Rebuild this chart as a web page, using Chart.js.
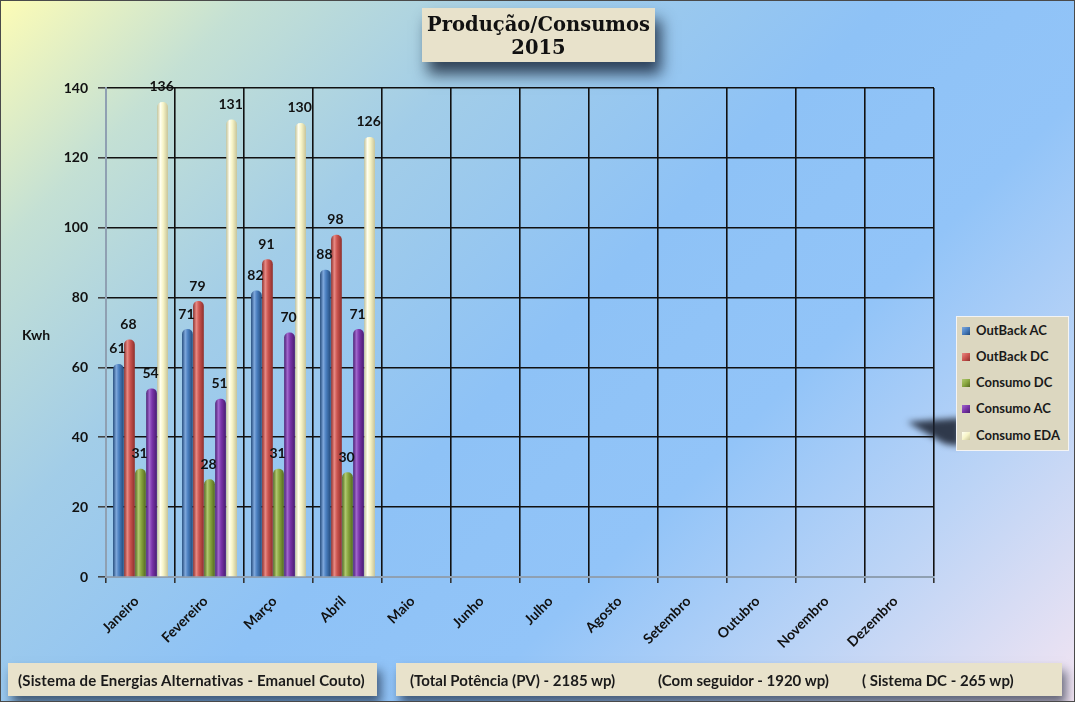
<!DOCTYPE html>
<html><head><meta charset="utf-8">
<script src="https://cdn.jsdelivr.net/npm/chart.js@4"></script>
<style>
html,body{margin:0;padding:0;}
body{width:1075px;height:702px;position:relative;overflow:hidden;font-family:Lato,"Open Sans",sans-serif;
background:linear-gradient(135deg,#fdfcb6 0%,#c4e0d4 14%,#a2cde8 30%,#8ec2f6 50%,#92c4f8 66%,#bcd4f6 82%,#f2e4f2 100%);}
#frame{position:absolute;left:0;top:0;width:1073px;height:700px;border:1px solid #4a4a4a;pointer-events:none;}
#c{position:absolute;left:0;top:0;}
.box{position:absolute;background:#e8e2cb;}
#title{left:422px;top:8px;width:233px;height:54px;box-shadow:6px 12px 14px rgba(10,20,40,0.75);text-align:center;
font-family:"DejaVu Serif",serif;font-weight:bold;font-size:19.5px;line-height:23px;color:#111;padding-top:5px;box-sizing:border-box;}
#shadowwrap{position:absolute;left:900px;top:412px;width:60px;height:40px;filter:blur(3px);}
#shadowwrap div{width:100%;height:100%;background:rgba(25,30,45,0.85);clip-path:polygon(12% 25%,100% 15%,100% 85%,75% 80%);}
#legend{position:absolute;left:956px;top:316px;width:113px;height:135px;background:#dcd7c0;border:1px solid #f4f4f4;box-sizing:border-box;}
.li{position:absolute;left:5px;font-weight:bold;font-size:13px;color:#1a1a1a;white-space:nowrap;line-height:14px;}
.li span{display:inline-block;width:8px;height:8px;margin-right:6px;vertical-align:0px;}
.foot{top:663px;height:33px;box-shadow:4px 8px 10px rgba(10,20,40,0.6);font-weight:bold;font-size:15px;color:#1a1a1a;}
.ft{position:absolute;top:8px;white-space:nowrap;}
</style></head>
<body>
<canvas id="c" width="1075" height="702"></canvas>
<div id="title" class="box">Produção/Consumos<br>2015</div>
<div id="shadowwrap"><div></div></div>
<div id="legend"></div>
<div class="box foot" style="left:8px;width:369px;"><div class="ft" style="left:10px;letter-spacing:0.16px;">(Sistema de Energias Alternativas - Emanuel Couto)</div></div>
<div class="box foot" style="left:396px;width:666px;">
<div class="ft" style="left:14px;">(Total Potência (PV) - 2185 wp)</div>
<div class="ft" style="left:262px;">(Com seguidor - 1920 wp)</div>
<div class="ft" style="left:466px;">( Sistema DC - 265 wp)</div>
</div>
<div id="frame"></div>
<script>
const categories = ['Janeiro','Fevereiro','Março','Abril','Maio','Junho','Julho','Agosto','Setembro','Outubro','Novembro','Dezembro'];
const seriesNames = ['OutBack AC','OutBack DC','Consumo DC','Consumo AC','Consumo EDA'];
const outbackAC = [61,71,82,88,null,null,null,null,null,null,null,null];
const outbackDC = [68,79,91,98,null,null,null,null,null,null,null,null];
const consumoDC = [31,28,31,30,null,null,null,null,null,null,null,null];
const consumoAC = [54,51,70,71,null,null,null,null,null,null,null,null];
const consumoEDA = [136,131,130,126,null,null,null,null,null,null,null,null];
const yTicks = [0,20,40,60,80,100,120,140];

const palette = [
  {dark:'#234a7a', mid:'#4a7fc0', light:'#7fa8dc'},
  {dark:'#8e2f2c', mid:'#cc5550', light:'#e88a84'},
  {dark:'#55691f', mid:'#8aa840', light:'#b0c870'},
  {dark:'#4a1c72', mid:'#7a35aa', light:'#a068cc'},
  {dark:'#c8c498', mid:'#f8f5c8', light:'#fffff0'}
];
const allData = [outbackAC, outbackDC, consumoDC, consumoAC, consumoEDA];

// legend
const lg = document.getElementById('legend');
seriesNames.forEach((n,i)=>{
  const d = document.createElement('div');
  d.className='li';
  d.style.top = (6 + i*26 + (i==4?1:0)) + 'px';
  const p = palette[i];
  d.innerHTML = '<span style="background:linear-gradient(135deg,'+p.light+','+p.mid+' 50%,'+p.dark+');"></span>'+n;
  lg.appendChild(d);
});

const FONT = 'Lato, "Open Sans", sans-serif';

const cylPlugin = {
  id:'cyl',
  beforeDatasetDraw(chart, args){
    const ctx = chart.ctx;
    const p = palette[args.index];
    args.meta.data.forEach(bar=>{
      if (bar.skip || !isFinite(bar.x) || !isFinite(bar.width)) return;
      const x0 = bar.x - bar.width/2, x1 = bar.x + bar.width/2;
      const g = ctx.createLinearGradient(x0,0,x1,0);
      g.addColorStop(0, p.dark);
      g.addColorStop(0.3, p.light);
      g.addColorStop(0.55, p.mid);
      g.addColorStop(1, p.dark);
      bar.options = Object.assign({}, bar.options, {backgroundColor:g});
    });
  },
  afterDatasetsDraw(chart){
    const ctx = chart.ctx;
    ctx.save();
    ctx.font = 'bold 14px ' + FONT;
    ctx.fillStyle = '#111';
    ctx.textAlign = 'center';
    ctx.textBaseline = 'middle';
    chart.data.datasets.forEach((ds,i)=>{
      const meta = chart.getDatasetMeta(i);
      meta.data.forEach((bar,j)=>{
        const v = ds.data[j];
        if (v == null) return;
        ctx.fillText(String(v), bar.x - 1, bar.y - 15);
      });
    });
    ctx.restore();
  },
  afterDraw(chart){
    const ctx = chart.ctx;
    ctx.save();
    ctx.font = 'bold 14px ' + FONT;
    ctx.fillStyle = '#111';
    ctx.textAlign = 'center';
    ctx.textBaseline = 'middle';
    ctx.fillText('Kwh', 36, 335);
    ctx.restore();
  }
};

new Chart(document.getElementById('c'), {
  type:'bar',
  data:{
    labels: categories,
    datasets: allData.map((d,i)=>({
      label: seriesNames[i],
      data: d,
      backgroundColor: palette[i].mid,
      borderWidth: 0,
      borderRadius: {topLeft:5, topRight:5, bottomLeft:0, bottomRight:0},
      borderSkipped: 'start',
      barPercentage: 0.97,
      categoryPercentage: 0.8
    }))
  },
  options:{
    responsive:false,
    animation:false,
    layout:{padding:{top:88, right:141, left:0, bottom:0}},
    plugins:{legend:{display:false}, title:{display:false}, tooltip:{enabled:false}},
    scales:{
      x:{
        offset:true,
        grid:{color:'#111', lineWidth:1.6, offset:true, drawTicks:true, tickLength:6, tickColor:'#333'},
        border:{color:'#8fa0b2', width:2},
        ticks:{color:'#111', font:{family:FONT, weight:'bold', size:14}, maxRotation:45, minRotation:45, padding:10, labelOffset:-4},
        afterFit(s){ s.height = 702 - 577; }
      },
      y:{
        min:0, max:140,
        afterBuildTicks(s){ s.ticks = yTicks.map(v=>({value:v})); },
        grid:{color:'#111', lineWidth:1.6, tickLength:8, tickColor:'#444'},
        border:{color:'#8fa0b2', width:2},
        ticks:{color:'#111', font:{family:FONT, weight:'bold', size:14}, padding:10},
        afterFit(s){ s.width = 106; }
      }
    }
  },
  plugins:[cylPlugin]
});
</script>
</body></html>
